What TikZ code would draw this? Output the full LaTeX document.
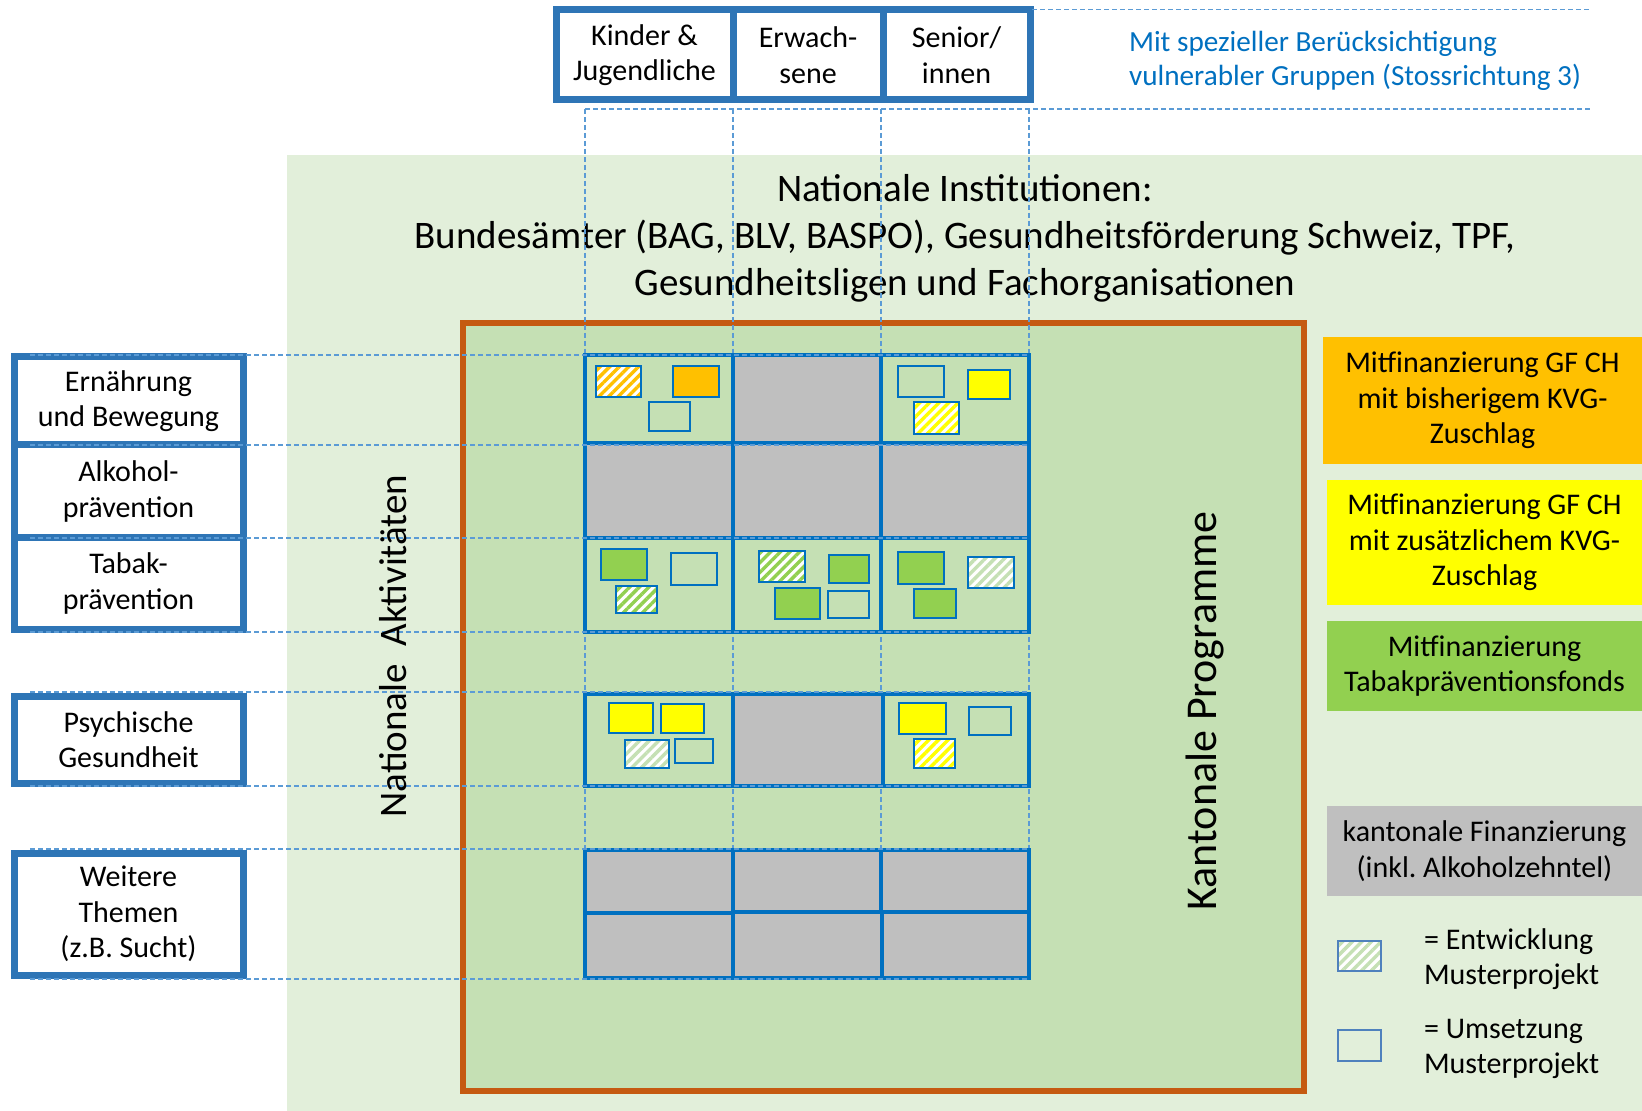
\documentclass[tikz,border=0pt]{standalone}
\usepackage{fontspec}
\setmainfont{Carlito}
\usetikzlibrary{patterns.meta}
\frenchspacing
\definecolor{bglight}{HTML}{E2EFDA}
\definecolor{bgmid}{HTML}{C5E0B4}
\definecolor{oborder}{HTML}{C55A11}
\definecolor{bbox}{HTML}{2E75B6}
\definecolor{bgrid}{HTML}{0070C0}
\definecolor{guideblue}{HTML}{5B9BD5}
\definecolor{graycell}{HTML}{BFBFBF}
\definecolor{gorange}{HTML}{FFC000}
\definecolor{gyellow}{HTML}{FFFF00}
\definecolor{ggreen}{HTML}{92D050}
\definecolor{gpale}{HTML}{C5E0B4}
\definecolor{textblue}{HTML}{0070C0}
\definecolor{legborder}{HTML}{4F81BD}
\newcommand\lblfont{\fontsize{15}{17.8}\selectfont}
\newcommand\titlefont{\fontsize{19.5}{23.5}\selectfont}
\newcommand\rotfont{\fontsize{19.5}{23}\selectfont}
\newcommand\rotbigfont{\fontsize{22}{26}\selectfont}
% style, x1, y1, x2, y2, name, text
\newcommand\rectnode[7]{\node[#1, anchor=north west, minimum width={(#4-#2)*0.5pt}, minimum height={(#5-#3)*0.5pt}] (#6) at (#2,#3) {#7};}
\tikzset{
  plain/.style={inner sep=0pt, outer sep=0pt},
  cellbox/.style={plain, draw=bgrid, line width=1.6pt, fill=bgmid},
  graybox/.style={cellbox, fill=graycell},
  labelbox/.style={plain, draw=bbox, line width=3.5pt, fill=white, align=center, font=\lblfont},
  proj/.style={plain, draw=bgrid, line width=1.3pt},
  projfill/.style={proj, fill=#1},
  projhatch/.style={proj, preaction={fill=white}, pattern={Lines[angle=45,distance=3.4pt,line width=1.7pt]}, pattern color=#1},
  legbox/.style={plain, align=center, font=\lblfont, fill=#1},
  guide/.style={draw=guideblue, line width=0.6pt, dash pattern=on 2.5pt off 1.5pt},
}
\begin{document}
\begin{tikzpicture}[x=0.5pt, y=-0.5pt]
\fill[white] (0,0) rectangle (1642,1111);
\useasboundingbox (0,0) rectangle (1642,1111);

% backgrounds
\rectnode{plain, fill=bglight}{287}{155}{1642}{1111}{natbg}{}
\rectnode{plain, fill=bgmid, draw=oborder, line width=2.6pt}{463}{323}{1304}{1091}{kanton}{}

% title
\node[font=\titlefont, align=center] (title) at (965,238) {Nationale Institutionen:\\Bundesämter (BAG, BLV, BASPO), Gesundheitsförderung Schweiz, TPF,\\Gesundheitsligen und Fachorganisationen};

% vertical guides
\foreach \x/\n in {585/a,733/b,881/c,1029/d}{
  \coordinate (vt\n) at (\x,109); \coordinate (vb\n) at (\x,979);
  \draw[guide] (vt\n) -- (vb\n);
}

% grid rows 1-3
\rectnode{cellbox}{585}{355}{733}{443}{g11}{}
\rectnode{graybox}{733}{355}{881}{443}{g12}{}
\rectnode{cellbox}{881}{355}{1029}{443}{g13}{}
\rectnode{graybox}{585}{443}{733}{538}{g21}{}
\rectnode{graybox}{733}{443}{881}{538}{g22}{}
\rectnode{graybox}{881}{443}{1029}{538}{g23}{}
\rectnode{cellbox}{585}{538}{733}{632}{g31}{}
\rectnode{cellbox}{733}{538}{881}{632}{g32}{}
\rectnode{cellbox}{881}{538}{1029}{632}{g33}{}
% row 4
\rectnode{cellbox}{585}{694}{733}{786}{g41}{}
\rectnode{graybox}{733}{694}{883}{786}{g42}{}
\rectnode{cellbox}{883}{694}{1029}{786}{g43}{}
% rows 5-6
\rectnode{graybox}{585}{850}{733}{913}{g51}{}
\rectnode{graybox}{733}{850}{881}{912}{g52}{}
\rectnode{graybox}{881}{850}{1029}{912}{g53}{}
\rectnode{graybox}{585}{913}{733}{978}{g61}{}
\rectnode{graybox}{733}{912}{882}{978}{g62}{}
\rectnode{graybox}{882}{912}{1029}{978}{g63}{}

% projects
\rectnode{projhatch=gorange}{596}{366}{641}{397}{p1}{}
\rectnode{projfill=gorange}{673}{366}{719}{397}{p2}{}
\rectnode{proj}{649}{402}{690}{431}{p3}{}
\rectnode{proj}{898}{366}{944}{397}{p4}{}
\rectnode{projfill=gyellow}{968}{370}{1010}{399}{p5}{}
\rectnode{projhatch=gyellow}{914}{402}{959}{434}{p6}{}
\rectnode{projfill=ggreen}{601}{549}{647}{580}{p7}{}
\rectnode{proj}{671}{553}{717}{585}{p8}{}
\rectnode{projhatch=ggreen}{616}{586}{657}{613}{p9}{}
\rectnode{projhatch=ggreen}{759}{551}{805}{582}{p10}{}
\rectnode{projfill=ggreen}{829}{555}{869}{583}{p11}{}
\rectnode{projfill=ggreen}{775}{588}{820}{619}{p12}{}
\rectnode{proj}{828}{591}{869}{618}{p13}{}
\rectnode{projfill=ggreen}{898}{552}{944}{584}{p14}{}
\rectnode{projhatch=gpale}{968}{557}{1014}{588}{p15}{}
\rectnode{projfill=ggreen}{914}{589}{956}{618}{p16}{}
\rectnode{projfill=gyellow}{609}{703}{653}{733}{p17}{}
\rectnode{projfill=gyellow}{661}{704}{704}{733}{p18}{}
\rectnode{projhatch=gpale}{625}{740}{669}{768}{p19}{}
\rectnode{proj}{675}{739}{713}{763}{p20}{}
\rectnode{projfill=gyellow}{899}{703}{946}{734}{p21}{}
\rectnode{proj}{969}{707}{1011}{735}{p22}{}
\rectnode{projhatch=gyellow}{914}{739}{955}{768}{p23}{}

% left label boxes
\rectnode{labelbox}{14}{357}{243}{445}{ern}{Ernährung\\und Bewegung}
\rectnode{labelbox}{14}{445}{243}{538}{alk}{Alkohol-\\prävention}
\rectnode{labelbox}{14}{538}{243}{629}{tab}{Tabak-\\prävention}
\rectnode{labelbox}{14}{696}{243}{783}{psy}{Psychische\\Gesundheit}
\rectnode{labelbox}{14}{853}{243}{975}{wei}{Weitere\\Themen\\(z.B. Sucht)}

% top group boxes
\rectnode{labelbox}{556}{10}{733}{100}{kin}{Kinder \&\\Jugendliche}
\rectnode{labelbox}{733}{10}{883}{100}{erw}{Erwach-\\sene}
\rectnode{labelbox}{883}{10}{1030}{100}{sen}{Senior/\\innen}

% horizontal guides
\foreach \y/\n in {355/a,445/b,538/c,632/d,692/e,786/f,849/g,979/h}{
  \coordinate (hl\n) at (30,\y); \coordinate (hr\n) at (1029,\y);
  \draw[guide] (hl\n) -- (hr\n);
}
\coordinate (ttl) at (1032,9.5); \coordinate (ttr) at (1590,9.5);
\draw[guide] (ttl) -- (ttr);
\coordinate (tbl) at (585,109); \coordinate (tbr) at (1592,109);
\draw[guide] (tbl) -- (tbr);

% blue note
\node[anchor=west, align=left, font=\fontsize{14.6}{17.3}\selectfont, text=textblue] (note) at (1122,61) {Mit spezieller Berücksichtigung\\vulnerabler Gruppen (Stossrichtung 3)};

% rotated labels
\node[rotate=90, font=\rotfont] (natakt) at (393,646) {Nationale~ Aktivitäten};
\node[rotate=90, font=\rotbigfont] (kantprog) at (1205,711) {Kantonale Programme};

% legend
\rectnode{legbox=gorange}{1323}{337}{1642}{464}{lo}{Mitfinanzierung GF CH\\mit bisherigem KVG-\\Zuschlag}
\rectnode{legbox=gyellow}{1327}{480}{1642}{605}{ly}{Mitfinanzierung GF CH\\mit zusätzlichem KVG-\\Zuschlag}
\rectnode{legbox=ggreen}{1327}{621}{1642}{711}{lg}{Mitfinanzierung\\Tabakpräventionsfonds}
\rectnode{legbox=graycell}{1327}{806}{1642}{896}{lgr}{kantonale Finanzierung\\(inkl. Alkoholzehntel)}
\rectnode{projhatch=gpale, draw=legborder}{1338}{941}{1381}{971}{lh}{}
\rectnode{proj, draw=legborder}{1338}{1030}{1381}{1061}{le}{}
\node[anchor=west, align=left, font=\lblfont] (lht) at (1417,959) {= Entwicklung\\Musterprojekt};
\node[anchor=west, align=left, font=\lblfont] (let) at (1417,1049) {= Umsetzung\\Musterprojekt};
\end{tikzpicture}
\end{document}
